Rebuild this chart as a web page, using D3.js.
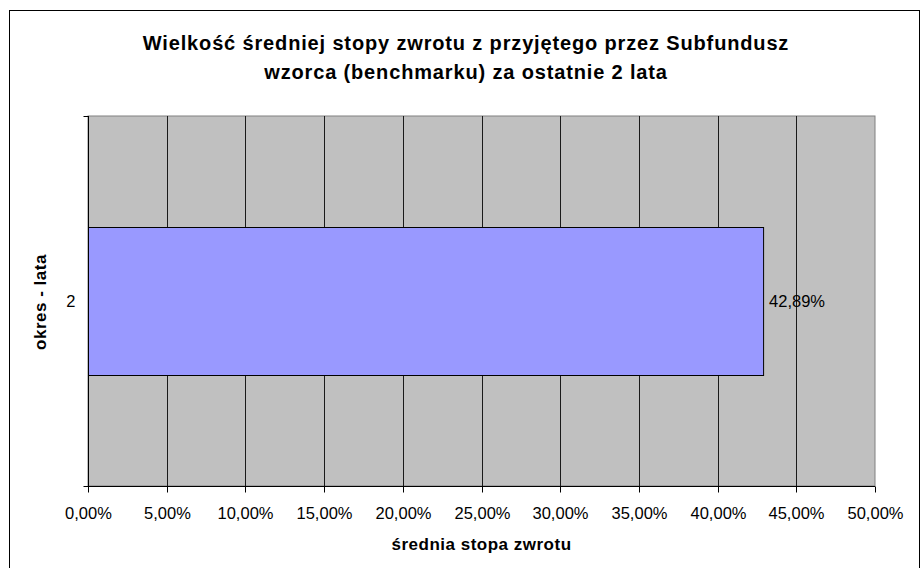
<!DOCTYPE html>
<html>
<head>
<meta charset="utf-8">
<script src="https://cdn.jsdelivr.net/npm/d3@7"></script>
<style>
  body { margin: 0; background: #fff; }
  text { font-family: "Liberation Sans", Arial, sans-serif; }
</style>
</head>
<body>
<div id="chart"></div>
<script>
// data
var categories = ["2"];
var values = [0.4289];
var xTicks = [0, 0.05, 0.10, 0.15, 0.20, 0.25, 0.30, 0.35, 0.40, 0.45, 0.50];
var titleLines = ["Wielkość średniej stopy zwrotu z przyjętego przez Subfundusz",
                  "wzorca (benchmarku) za ostatnie 2 lata"];
var xTitle = "średnia stopa zwrotu";
var yTitle = "okres - lata";

var width = 923, height = 568;
var plot = { left: 88, top: 116, right: 875, bottom: 486 };
var FONT = "'Liberation Sans', Arial, sans-serif";

var fmt = function(v) { return (v * 100).toFixed(2).replace(".", ",") + "%"; };

var svg = d3.select("#chart").append("svg")
    .attr("width", width)
    .attr("height", height);

// outer chart border
svg.append("rect")
  .attr("x", 9.5).attr("y", 10.5)
  .attr("width", 910).attr("height", 570)
  .attr("fill", "#fff")
  .attr("stroke", "#000");

var x = d3.scaleLinear()
  .domain([0, 0.5])
  .range([plot.left, plot.right]);

var y = d3.scaleBand()
  .domain(categories)
  .range([plot.top, plot.bottom])
  .paddingInner(0.6)
  .paddingOuter(0.3);

// plot background
svg.append("rect")
  .attr("x", plot.left).attr("y", plot.top)
  .attr("width", plot.right - plot.left)
  .attr("height", plot.bottom - plot.top)
  .attr("fill", "#c0c0c0")
  .attr("stroke", "#808080");

// gridlines
svg.append("g")
  .selectAll("line")
  .data(xTicks.slice(1, -1))
  .enter().append("line")
  .attr("x1", function(d) { return Math.round(x(d)) + 0.5; })
  .attr("x2", function(d) { return Math.round(x(d)) + 0.5; })
  .attr("y1", plot.top)
  .attr("y2", plot.bottom)
  .attr("stroke", "#1a1a1a")
  .attr("stroke-width", 1);

// bars
svg.append("g")
  .selectAll("rect")
  .data(values)
  .enter().append("rect")
  .attr("x", x(0) + 0.5)
  .attr("y", function(d, i) { return Math.round(y(categories[i])) + 0.5; })
  .attr("width", function(d) { return x(d) - x(0); })
  .attr("height", y.bandwidth())
  .attr("fill", "#9999ff")
  .attr("stroke", "#000");

// value labels
svg.append("g")
  .selectAll("text")
  .data(values)
  .enter().append("text")
  .attr("x", function(d) { return x(d) + 6; })
  .attr("y", function(d, i) { return y(categories[i]) + y.bandwidth() / 2 + 5.5; })
  .attr("font-size", "16.5px")
  .attr("font-family", FONT)
  .attr("fill", "#000")
  .text(fmt);

// x axis
var xAxis = svg.append("g")
  .attr("transform", "translate(0," + (plot.bottom + 0.5) + ")")
  .call(d3.axisBottom(x).tickValues(xTicks).tickFormat(fmt).tickSize(6));
xAxis.select(".domain").attr("stroke", "#000").attr("d", "M" + plot.left + ",0H" + plot.right);
xAxis.selectAll(".tick text")
  .attr("y", 32).attr("dy", null)
  .attr("font-size", "16.5px").attr("font-family", FONT).attr("fill", "#000");
xAxis.selectAll(".tick").attr("transform", function(d) { return "translate(" + (Math.round(x(d)) + 0.5) + ",0)"; });

// y axis
var yAxis = svg.append("g")
  .attr("transform", "translate(" + (plot.left + 0.5) + ",0)")
  .call(d3.axisLeft(y).tickSize(0).tickPadding(13));
yAxis.select(".domain").attr("stroke", "#000").attr("d", "M0," + plot.top + "V" + plot.bottom);
yAxis.selectAll(".tick text")
  .attr("dy", null).attr("y", 6)
  .attr("font-size", "16.5px").attr("font-family", FONT).attr("fill", "#000");
// category boundary ticks
yAxis.selectAll(".bound")
  .data(y.range())
  .enter().append("line")
  .attr("class", "bound")
  .attr("x1", -5).attr("x2", 0)
  .attr("y1", function(d) { return d + 0.5; })
  .attr("y2", function(d) { return d + 0.5; })
  .attr("stroke", "#000");

// title
svg.append("text")
  .attr("text-anchor", "middle")
  .attr("font-size", "20px")
  .attr("font-weight", "bold")
  .attr("letter-spacing", "0.85px")
  .attr("font-family", FONT)
  .selectAll("tspan")
  .data(titleLines)
  .enter().append("tspan")
  .attr("x", 466)
  .attr("y", function(d, i) { return 50 + i * 29; })
  .text(function(d) { return d; });

// axis titles
svg.append("text")
  .attr("x", (plot.left + plot.right) / 2)
  .attr("y", 550)
  .attr("text-anchor", "middle")
  .attr("font-size", "17px")
  .attr("font-weight", "bold")
  .attr("letter-spacing", "0.5px")
  .attr("font-family", FONT)
  .text(xTitle);

svg.append("text")
  .attr("transform", "translate(46," + (302) + ") rotate(-90)")
  .attr("text-anchor", "middle")
  .attr("font-size", "17px")
  .attr("font-weight", "bold")
  .attr("letter-spacing", "0.5px")
  .attr("font-family", FONT)
  .text(yTitle);
</script>
</body>
</html>
